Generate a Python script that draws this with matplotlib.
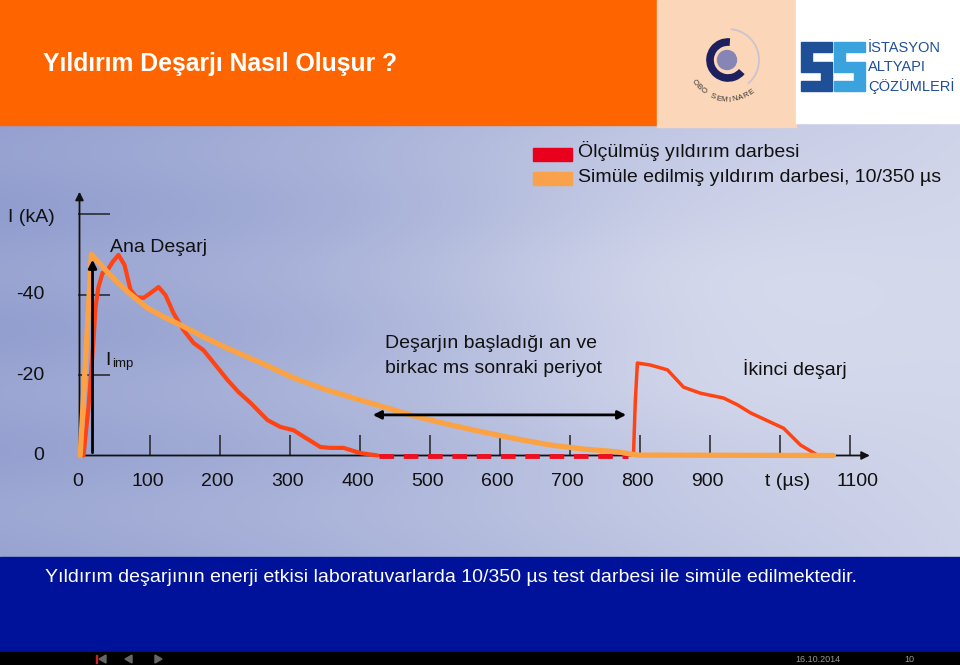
import matplotlib
matplotlib.use("Agg")
import matplotlib.pyplot as plt
import numpy as np
from matplotlib.patches import Rectangle, Arc, Circle, Polygon

plt.rcParams['font.family'] = ['Liberation Sans', 'DejaVu Sans']

# ---- data (t in microseconds, I in kA, drawn as magnitude) ----
sim_t = [1, 17, 30, 44, 70, 97, 120, 144, 175, 211, 260, 306, 350, 401, 440, 483, 530, 577, 625, 673, 720, 769, 797, 1077]
sim_i = [0, 50, 47.5, 44.9, 40.5, 36.7, 34.5, 32.5, 29.7, 26.7, 23.0, 19.3, 16.5, 13.8, 11.8, 9.6, 7.6, 5.8, 4.1, 2.6, 1.6, 0.9, 0.1, 0]

meas_t = [5.7, 12.9, 20, 22.9, 27.1, 32.9, 40, 47.1, 55.7, 64.3, 72.9, 81.4, 91.4, 101.4, 112.9, 122.9,
          134.3, 148.6, 162.9, 177.1, 194.3, 211.4, 227.1, 244.3, 268.6, 287.1, 305.7, 322.9, 344.3,
          358.6, 377.1, 401.4, 425.7]
meas_i = [0, 12.1, 28.7, 36.9, 41.9, 45.4, 46.1, 48.1, 49.9, 47.4, 41.2, 39.4, 39.2, 40.4, 41.9, 39.9,
          35.4, 31.2, 28.0, 26.2, 22.5, 18.8, 15.8, 13.1, 8.8, 7.1, 6.3, 4.4, 2.1, 1.9, 1.9, 0.6, 0]

gap_t = [428, 783]
gap_i = [-0.2, -0.2]

second_t = [791.4, 794, 797, 815.7, 840, 862.9, 887, 920, 940, 958.6, 987, 1005.7, 1030, 1054.3]
second_i = [0.1, 13.5, 23.0, 22.5, 21.3, 17.0, 15.5, 14.3, 12.6, 10.6, 8.3, 6.8, 2.6, 0.1]

x_ticks = [100, 200, 300, 400, 500, 600, 700, 800, 900, 1000, 1100]
x_labels = ['100', '200', '300', '400', '500', '600', '700', '800', '900', 't (µs)', '1100']
y_ticks = [20, 40, 60]
y_labels = ['0', '-20', '-40']
y_label_vals = [0, 20, 40]

W, H = 960, 665
fig = plt.figure(figsize=(9.6, 6.65), dpi=100)

# background axes in pixel coordinates
bg = fig.add_axes([0, 0, 1, 1])
bg.set_xlim(0, W)
bg.set_ylim(H, 0)
bg.axis('off')

# slide body gradient
yy, xx = np.mgrid[0:440, 0:W]
u = xx / W
v = yy / 440.0
w = 0.12 + 0.62 * np.clip(u, 0, 1) ** 1.1 + 0.25 * np.exp(-((xx - 700) / 260.0) ** 2 - ((yy - 190) / 170.0) ** 2)
w += 0.04 * np.sin(v * 23.0) * (1 - u) + 0.08 * (v - 0.5) * (1 - u)
w = np.clip(w, 0, 1)
c0 = np.array([0.55, 0.60, 0.80])
c1 = np.array([0.89, 0.90, 0.95])
img = c0[None, None, :] * (1 - w[..., None]) + c1[None, None, :] * w[..., None]
bg.imshow(img, extent=[0, W, 560, 120], aspect='auto', zorder=0)

# header
bg.add_patch(Rectangle((0, 0), 657, 125, color='#fe6500', zorder=1))
bg.add_patch(Rectangle((657, 0), 139, 127, color='#fbd6b8', zorder=1))
bg.add_patch(Rectangle((796, 0), 164, 123, color='white', zorder=1))
bg.text(43, 64, 'Yıldırım Deşarjı Nasıl Oluşur ?', color='white', fontsize=17.8, fontweight='bold',
        va='center', ha='left', zorder=2)

# OBO logo
cx, cy = 728, 60
bg.add_patch(Arc((cx, cy), 62, 62, theta1=-85, theta2=50, color='#c9c5cf', lw=1.3, zorder=2))
bg.add_patch(Arc((cx, cy), 36, 36, theta1=40, theta2=276, color='#1d1f5e', lw=5.5, zorder=2))
bg.add_patch(Circle((cx - 1, cy), 9.5, color='#8784b6', zorder=2))
logo_text = 'OBO SEMINARE'
for k, ch in enumerate(logo_text):
    phi = np.radians(214 + k * 8.3)
    bg.text(cx + 40 * np.cos(phi), cy - 40 * np.sin(phi), ch, fontsize=5.6, color='#333333',
            rotation=np.degrees(phi) - 270, ha='center', va='center', zorder=2)

# SIS logo
for x0, col in [(801, '#1f4f97'), (834, '#3aa3de')]:
    bg.add_patch(Polygon([(x0, 42), (x0 + 31, 42), (x0 + 31, 52), (x0 + 11, 52), (x0 + 11, 62),
                          (x0 + 31, 62), (x0 + 31, 91), (x0, 91), (x0, 81), (x0 + 20, 81),
                          (x0 + 20, 72), (x0, 72)], closed=True, color=col, zorder=2))
for i, s in enumerate(['İSTASYON', 'ALTYAPI', 'ÇÖZÜMLERİ']):
    bg.text(868, 48 + i * 19, s, fontsize=10.5, color='#1f4f97', va='center', ha='left', zorder=2)

# bottom band and footer
bg.add_patch(Rectangle((0, 557), W, 95, color='#001299', zorder=1))
bg.add_patch(Rectangle((0, 652), W, 13, color='black', zorder=1))
bg.text(45, 577, 'Yıldırım deşarjının enerji etkisi laboratuvarlarda 10/350 µs test darbesi ile simüle edilmektedir.',
        color='white', fontsize=14, va='center', ha='left', zorder=2)
bg.add_patch(Rectangle((96, 655), 1.2, 8, color='#cc2222', zorder=2))
bg.add_patch(Polygon([(99, 659), (106, 655), (106, 663)], color='#666666', zorder=2))
bg.add_patch(Polygon([(125, 659), (132, 655), (132, 663)], color='#666666', zorder=2))
bg.add_patch(Polygon([(162, 659), (155, 655), (155, 663)], color='#666666', zorder=2))
bg.text(818, 660, '16.10.2014', color='#999999', fontsize=6.5, ha='center', va='center', zorder=2)
bg.text(909, 660, '10', color='#999999', fontsize=6.5, ha='center', va='center', zorder=2)

# legend
bg.add_patch(Rectangle((533, 148), 39, 13, color='#e8001c', zorder=2))
bg.add_patch(Rectangle((533, 172), 39, 13, color='#f9a24b', zorder=2))
bg.text(578, 157, 'Ölçülmüş yıldırım darbesi', fontsize=14, color='#111111', va='baseline', zorder=2)
bg.text(578, 182, 'Simüle edilmiş yıldırım darbesi, 10/350 µs', fontsize=14, color='#111111', va='baseline', zorder=2)

# ---- chart axes: data coordinates mapped onto the slide ----
px0, sx = 79.5, 0.70
py0, sy = 455.5, 4.02
ax = fig.add_axes([0, 0, 1, 1], zorder=3)
ax.set_xlim((0 - px0) / sx, (W - px0) / sx)
ax.set_ylim((py0 - H) / sy, (py0 - 0) / sy)
ax.axis('off')
ax.patch.set_alpha(0)

# axes with arrows
ax.annotate('', xy=(0, 66.3), xytext=(0, 0),
            arrowprops=dict(arrowstyle='-|>', color='#111111', lw=1.3, mutation_scale=12))
ax.annotate('', xy=(1133, 0), xytext=(0, 0),
            arrowprops=dict(arrowstyle='-|>', color='#111111', lw=1.3, mutation_scale=12))
ax.vlines(x_ticks, 0, 5, color='#222222', lw=1.1)
ax.hlines(y_ticks, -2, 43, color='#222222', lw=1.1)

# curves
ax.plot(meas_t, meas_i, color='#ff4313', lw=3, solid_capstyle='round', zorder=4)
ax.plot(gap_t, gap_i, color='#ee1020', lw=3.5, dashes=(3, 2), zorder=4)
ax.plot(second_t, second_i, color='#ff4313', lw=2.5, zorder=4)
ax.plot(sim_t, sim_i, color='#fba344', lw=3.8, solid_capstyle='round', zorder=5)

# I_imp arrow and period arrow
ax.annotate('', xy=(18.6, 49.4), xytext=(18.6, 0),
            arrowprops=dict(arrowstyle='-|>', color='black', lw=2, mutation_scale=12), zorder=6)
ax.annotate('', xy=(415, 10.1), xytext=(785, 10.1),
            arrowprops=dict(arrowstyle='<|-|>', color='black', lw=2, mutation_scale=12), zorder=6)

# tick labels
for t, lab in zip([0] + x_ticks, ['0'] + x_labels):
    dx = 8 if t >= 1000 else -2
    ax.annotate(lab, xy=(t, 0), xytext=(dx, -26), textcoords='offset pixels',
                ha='center', va='center', fontsize=14, color='#111111')
for val, lab in zip(y_label_vals, y_labels):
    ax.annotate(lab, xy=(0, val), xytext=(-35, 0), textcoords='offset pixels',
                ha='right', va='center', fontsize=14, color='#111111')
bg.text(8, 222, 'I (kA)', fontsize=14, color='#111111', va='baseline', zorder=4)

# annotations
bg.text(110, 252, 'Ana Deşarj', fontsize=14, color='#111111', va='baseline', zorder=4)
bg.text(105, 365, 'I', fontsize=14, color='#111111', va='baseline', zorder=4)
bg.text(112, 367, 'imp', fontsize=9.5, color='#111111', va='baseline', zorder=4)
bg.text(385, 348, 'Deşarjın başladığı an ve', fontsize=14, color='#111111', va='baseline', zorder=4)
bg.text(385, 373, 'birkac ms sonraki periyot', fontsize=14, color='#111111', va='baseline', zorder=4)
bg.text(743, 375, 'İkinci deşarj', fontsize=14, color='#111111', va='baseline', zorder=4)

fig.savefig('out.png', dpi=100)
